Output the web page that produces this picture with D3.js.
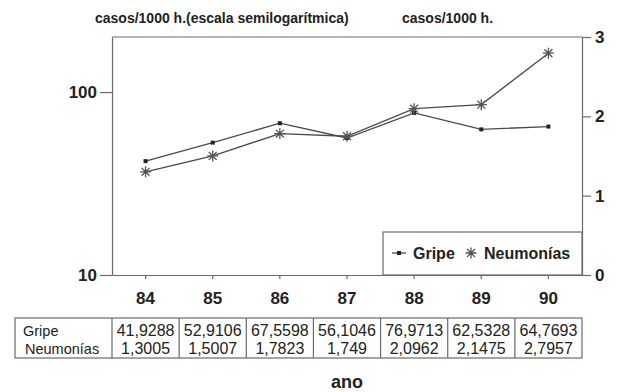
<!DOCTYPE html>
<html>
<head>
<meta charset="utf-8">
<script src="https://cdn.jsdelivr.net/npm/d3@7"></script>
<style>
  html, body { margin: 0; padding: 0; background: #fff; }
  svg { display: block; font-family: "Liberation Sans", Arial, sans-serif; }
</style>
</head>
<body>
<svg id="chart" width="617" height="392"></svg>
<script>
// Annual rates, cases per 1000 inhabitants
const years = ["84", "85", "86", "87", "88", "89", "90"];
const gripe = [41.9288, 52.9106, 67.5598, 56.1046, 76.9713, 62.5328, 64.7693];
const neumonias = [1.3005, 1.5007, 1.7823, 1.749, 2.0962, 2.1475, 2.7957];
const gripeLabels = ["41,9288", "52,9106", "67,5598", "56,1046", "76,9713", "62,5328", "64,7693"];
const neumoniasLabels = ["1,3005", "1,5007", "1,7823", "1,749", "2,0962", "2,1475", "2,7957"];
const leftTicks = [10, 100];
const rightTicks = [0, 1, 2, 3];

const svg = d3.select("#chart");
const pLeft = 112, pRight = 582, pTop = 37, pBottom = 275;
const ink = "#222", lineCol = "#4a4a4a", frameCol = "#6a6a6a";

const x = d3.scaleBand().domain(years).range([pLeft, pRight]).padding(0);
const yL = d3.scaleLog().domain([10, 200]).range([pBottom, pTop]);
const yR = d3.scaleLinear().domain([0, 3]).range([pBottom, pTop]);
const cx = d => x(d) + x.bandwidth() / 2;

// titles
svg.append("text").attr("x", 95).attr("y", 23)
  .attr("font-size", 14).attr("font-weight", "bold").attr("fill", ink)
  .text("casos/1000 h.(escala semilogarítmica)");
svg.append("text").attr("x", 402).attr("y", 23)
  .attr("font-size", 14).attr("font-weight", "bold").attr("fill", ink)
  .text("casos/1000 h.");

// frame top
svg.append("line").attr("x1", pLeft).attr("x2", pRight).attr("y1", pTop).attr("y2", pTop)
  .attr("stroke", frameCol).attr("stroke-width", 1.2);

function styleAxis(g) {
  g.selectAll("path, line").attr("stroke", frameCol).attr("stroke-width", 1.2);
  g.selectAll("text").attr("fill", ink).attr("font-weight", "bold")
    .attr("font-family", "Liberation Sans, Arial, sans-serif");
}

// left log axis
svg.append("g").attr("transform", `translate(${pLeft},0)`)
  .call(d3.axisLeft(yL).tickValues(leftTicks).tickFormat(d3.format("d"))
    .tickSize(12).tickSizeOuter(0).tickPadding(3))
  .call(g => g.attr("font-size", 17))
  .call(styleAxis);

// right linear axis
svg.append("g").attr("transform", `translate(${pRight},0)`)
  .call(d3.axisRight(yR).tickValues(rightTicks).tickFormat(d3.format("d"))
    .tickSize(9).tickSizeOuter(0).tickPadding(4))
  .call(g => g.attr("font-size", 17))
  .call(styleAxis);

// year axis
svg.append("g").attr("transform", `translate(0,${pBottom})`)
  .call(d3.axisBottom(x).tickSize(4).tickSizeOuter(0).tickPadding(13))
  .call(g => g.attr("font-size", 17))
  .call(styleAxis);

// legend box
const lg = svg.append("g");
lg.append("rect").attr("x", 383).attr("y", 232).attr("width", pRight - 383).attr("height", pBottom - 232)
  .attr("fill", "#fff").attr("stroke", frameCol).attr("stroke-width", 1.2);

// asterisk marker: plus + times
function star(r) {
  const d = r * 0.72;
  return `M${-r},0L${r},0M0,${-r}L0,${r}M${-d},${-d}L${d},${d}M${-d},${d}L${d},${-d}`;
}

// series lines
const lineG = d3.line().x((d, i) => cx(years[i])).y(d => yL(d));
const lineN = d3.line().x((d, i) => cx(years[i])).y(d => yR(d));

svg.append("path").datum(gripe).attr("d", lineG)
  .attr("fill", "none").attr("stroke", lineCol).attr("stroke-width", 1.3);
svg.append("path").datum(neumonias).attr("d", lineN)
  .attr("fill", "none").attr("stroke", lineCol).attr("stroke-width", 1.3);

svg.selectAll(".mg").data(gripe).enter().append("rect")
  .attr("x", (d, i) => cx(years[i]) - 2).attr("y", d => yL(d) - 2)
  .attr("width", 4).attr("height", 4).attr("fill", "#222");
svg.selectAll(".mn").data(neumonias).enter().append("path")
  .attr("transform", (d, i) => `translate(${cx(years[i])},${yR(d)})`)
  .attr("d", star(5.5)).attr("stroke", "#555").attr("stroke-width", 1.3).attr("fill", "none");

// legend contents
lg.append("line").attr("x1", 392).attr("x2", 406).attr("y1", 253).attr("y2", 253)
  .attr("stroke", lineCol).attr("stroke-width", 1.3);
lg.append("rect").attr("x", 397).attr("y", 251).attr("width", 4).attr("height", 4).attr("fill", "#222");
lg.append("text").attr("x", 413).attr("y", 259).attr("font-size", 16).attr("font-weight", "bold")
  .attr("fill", ink).text("Gripe");
lg.append("path").attr("transform", "translate(471,253)").attr("d", star(5.5))
  .attr("stroke", "#555").attr("stroke-width", 1.3).attr("fill", "none");
lg.append("text").attr("x", 484).attr("y", 259).attr("font-size", 16).attr("font-weight", "bold")
  .attr("fill", ink).text("Neumonías");

// data table
const tTop = 318, tBot = 358, tLeft = 15;
const tg = svg.append("g");
tg.append("rect").attr("x", tLeft).attr("y", tTop).attr("width", pRight - tLeft).attr("height", tBot - tTop)
  .attr("fill", "none").attr("stroke", frameCol).attr("stroke-width", 1.2);
tg.selectAll(".sep").data(years).enter().append("line")
  .attr("x1", d => x(d)).attr("x2", d => x(d)).attr("y1", tTop).attr("y2", tBot)
  .attr("stroke", frameCol).attr("stroke-width", 1.2);
const rows = [["Gripe", gripeLabels, 336, 23], ["Neumonías", neumoniasLabels, 354, 25]];
rows.forEach(([name, vals, yb, lx]) => {
  tg.append("text").attr("x", lx).attr("y", yb).attr("font-size", 14.5).attr("fill", ink).text(name);
  tg.selectAll(null).data(vals).enter().append("text")
    .attr("x", (d, i) => cx(years[i])).attr("y", yb).attr("text-anchor", "middle")
    .attr("font-size", 16).attr("fill", ink).text(d => d);
});

// x title
svg.append("text").attr("x", (pLeft + pRight) / 2).attr("y", 388).attr("text-anchor", "middle")
  .attr("font-size", 18).attr("font-weight", "bold").attr("fill", ink).text("ano");
</script>
</body>
</html>
